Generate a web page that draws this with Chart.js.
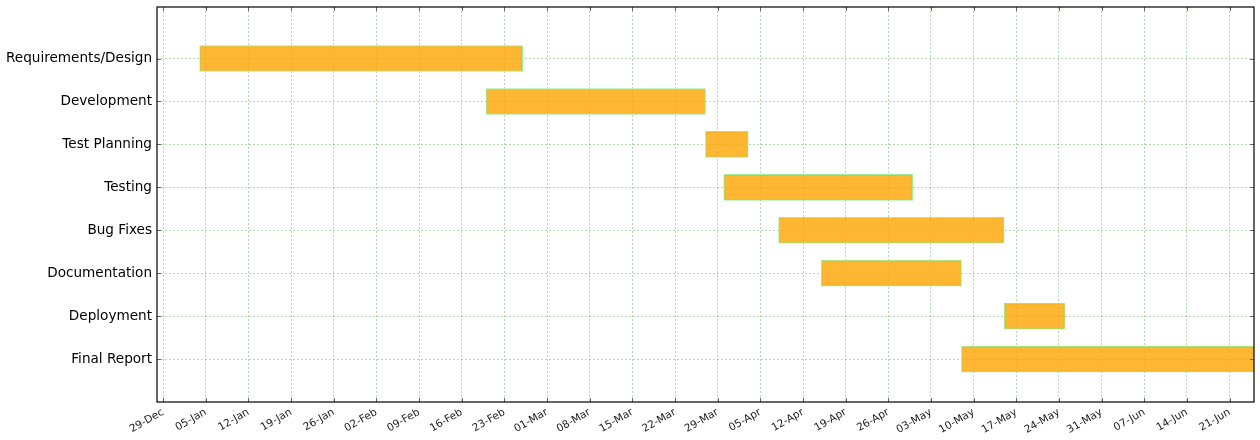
<!DOCTYPE html>
<html>
<head>
<meta charset="utf-8">
<script src="https://cdn.jsdelivr.net/npm/chart.js@4.4.0/dist/chart.umd.min.js"></script>
<style>
  html, body { margin: 0; padding: 0; background: #fff; }
  #wrap { width: 1260px; height: 440px; position: relative; }
</style>
</head>
<body>
<div id="wrap"><canvas id="gantt"></canvas></div>
<script>
// tasks, top to bottom
var tasks = ['Requirements/Design', 'Development', 'Test Planning', 'Testing',
             'Bug Fixes', 'Documentation', 'Deployment', 'Final Report'];
var startDates = ['2016-01-04', '2016-02-20', '2016-03-27', '2016-03-30',
                  '2016-04-08', '2016-04-15', '2016-05-15', '2016-05-08'];
var endDates = ['2016-02-26', '2016-03-27', '2016-04-03', '2016-04-30',
                '2016-05-15', '2016-05-08', '2016-05-25', '2016-06-30'];

var xTickLabels = ['29-Dec', '05-Jan', '12-Jan', '19-Jan', '26-Jan', '02-Feb', '09-Feb',
                   '16-Feb', '23-Feb', '01-Mar', '08-Mar', '15-Mar', '22-Mar', '29-Mar',
                   '05-Apr', '12-Apr', '19-Apr', '26-Apr', '03-May', '10-May', '17-May',
                   '24-May', '31-May', '07-Jun', '14-Jun', '21-Jun'];
var firstTick = '2015-12-29';
var axisStart = '2015-12-28';
var axisEnd = '2016-06-25';

// days since the first tick
function dayNum(s) {
  return (Date.parse(s) - Date.parse(firstTick)) / 86400000;
}

var bars = tasks.map(function(t, i) {
  return { x: [dayNum(startDates[i]), dayNum(endDates[i])], y: i + 1 };
});

var gridColor = 'rgba(0,150,0,0.32)';

// black box round the plot and small inward ticks, like the original
var framePlugin = {
  id: 'frame',
  afterDraw: function(chart) {
    var ctx = chart.ctx;
    var a = chart.chartArea;
    ctx.save();
    ctx.strokeStyle = '#666';
    ctx.lineWidth = 1;
    ctx.beginPath();
    chart.scales.x.ticks.forEach(function(t) {
      var px = Math.round(chart.scales.x.getPixelForValue(t.value)) + 0.5;
      ctx.moveTo(px, a.bottom); ctx.lineTo(px, a.bottom - 4);
      ctx.moveTo(px, a.top); ctx.lineTo(px, a.top + 4);
    });
    chart.scales.y.ticks.forEach(function(t) {
      var py = Math.round(chart.scales.y.getPixelForValue(t.value)) + 0.5;
      ctx.moveTo(a.left, py); ctx.lineTo(a.left + 4, py);
      ctx.moveTo(a.right, py); ctx.lineTo(a.right - 4, py);
    });
    ctx.stroke();
    ctx.strokeStyle = '#000';
    ctx.lineWidth = 1.2;
    ctx.strokeRect(a.left, a.top, a.right - a.left, a.bottom - a.top);
    ctx.restore();
  }
};

var ctx = document.getElementById('gantt').getContext('2d');
var config = {
  type: 'bar',
  data: {
    datasets: [{
      data: bars,
      backgroundColor: 'rgba(255,165,0,0.8)',
      borderColor: 'rgba(144,238,144,0.9)',
      borderWidth: 1,
      borderSkipped: false,
      barThickness: 26
    }]
  },
  options: {
    indexAxis: 'y',
    responsive: true,
    maintainAspectRatio: false,
    animation: false,
    layout: { padding: { top: 7, right: 6, left: 0, bottom: 0 } },
    plugins: {
      legend: { display: false },
      tooltip: { enabled: false }
    },
    scales: {
      x: {
        type: 'linear',
        z: 1,
        min: dayNum(axisStart),
        max: dayNum(axisEnd),
        afterBuildTicks: function(scale) {
          scale.ticks = xTickLabels.map(function(l, i) { return { value: i * 7 }; });
        },
        afterFit: function(scale) {
          scale.height = 38;
          scale.paddingLeft = 0;
          scale.paddingRight = 0;
        },
        grid: { color: gridColor, lineWidth: 1, drawTicks: false },
        border: { display: false, dash: [2, 2] },
        ticks: {
          autoSkip: false,
          minRotation: 30,
          maxRotation: 30,
          padding: 4,
          color: '#222',
          font: { family: 'DejaVu Sans', size: 10.5 },
          callback: function(v) { return xTickLabels[Math.round(v / 7)]; }
        }
      },
      y: {
        type: 'linear',
        z: 1,
        reverse: true,
        offset: false,
        min: -0.2,
        max: 9,
        afterBuildTicks: function(scale) {
          scale.ticks = tasks.map(function(t, i) { return { value: i + 1 }; });
        },
        afterFit: function(scale) {
          scale.width = 157;
          scale.paddingTop = 0;
          scale.paddingBottom = 0;
        },
        grid: { color: gridColor, lineWidth: 1, drawTicks: false, offset: false },
        border: { display: false, dash: [2, 2] },
        ticks: {
          padding: 5,
          color: '#000',
          font: { family: 'DejaVu Sans', size: 13.6 },
          callback: function(v) { return tasks[v - 1]; }
        }
      }
    }
  },
  plugins: [framePlugin]
};

var myChart = new Chart(ctx, config);
</script>
</body>
</html>
